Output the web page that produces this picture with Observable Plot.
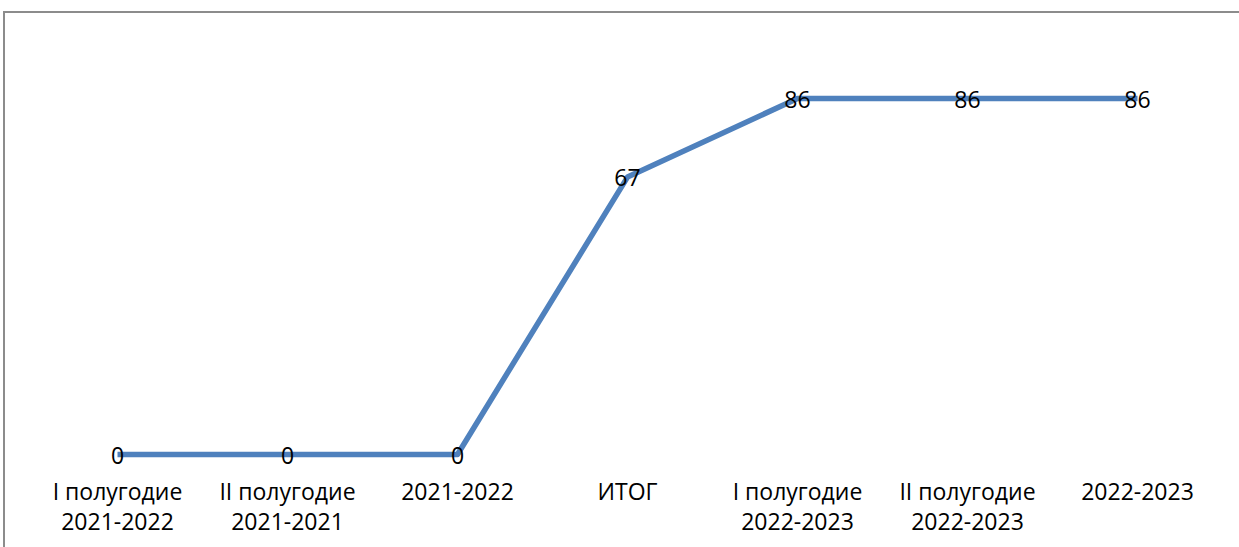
<!DOCTYPE html>
<html>
<head>
<meta charset="utf-8">
<script src="https://cdn.jsdelivr.net/npm/d3@7"></script>
<script src="https://cdn.jsdelivr.net/npm/@observablehq/plot@0.6"></script>
<style>
  html, body { margin: 0; padding: 0; background: #fff; overflow: hidden; }
  #wrap { position: relative; width: 1239px; height: 547px; }
  #frame { position: absolute; left: 3px; top: 11px; width: 1260px; height: 560px; border: 2px solid #8c8c8c; box-sizing: border-box; }
  #chart { position: absolute; left: 0; top: 0; }
</style>
</head>
<body>
<div id="wrap"><div id="frame"></div><div id="chart"></div></div>
<script>
const categories = [
  "I полугодие\n2021-2022",
  "II полугодие\n2021-2021",
  "2021-2022",
  "ИТОГ",
  "I полугодие\n2022-2023",
  "II полугодие\n2022-2023",
  "2022-2023"
];
const values = [0, 0, 0, 67, 86, 86, 86];

const data = categories.map((c, i) => ({cat: c, v: values[i]}));

const chart = Plot.plot({
  width: 1239,
  height: 547,
  marginLeft: 32,
  marginRight: 17,
  marginTop: 40,
  marginBottom: 93,
  style: {fontFamily: "'Open Sans', sans-serif", fontSize: "23px", color: "#000", background: "transparent"},
  x: {type: "point", domain: categories, padding: 0.5, axis: null},
  y: {domain: [0, 100], axis: null},
  marks: [
    Plot.axisX({tickSize: 0, tickPadding: 24, fontSize: 23, lineHeight: 1.3, fill: "#000", label: null}),
    Plot.line(data, {x: "cat", y: "v", stroke: "#4f81bd", strokeWidth: 5.5, strokeLinejoin: "round", strokeLinecap: "butt"}),
    Plot.text(data, {x: "cat", y: "v", text: d => String(d.v), fontSize: 23, fill: "#000", dy: 2})
  ]
});
document.getElementById("chart").appendChild(chart);
</script>
</body>
</html>
